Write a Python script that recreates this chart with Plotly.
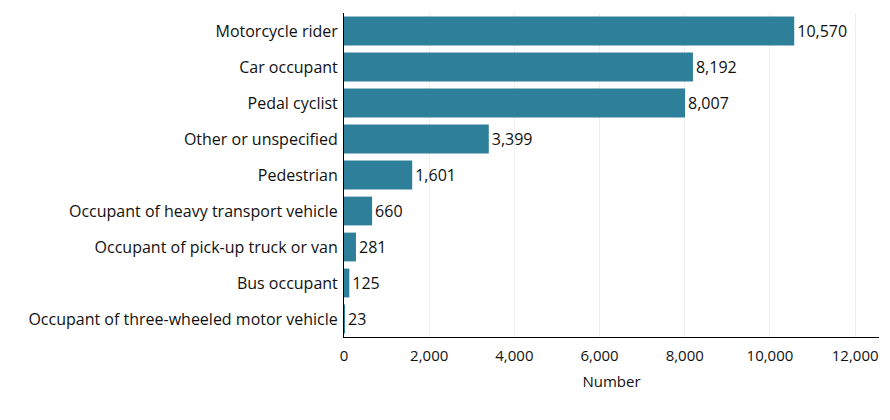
import plotly.graph_objects as go

categories = [
    "Motorcycle rider",
    "Car occupant",
    "Pedal cyclist",
    "Other or unspecified",
    "Pedestrian",
    "Occupant of heavy transport vehicle",
    "Occupant of pick-up truck or van",
    "Bus occupant",
    "Occupant of three-wheeled motor vehicle",
]
values = [10570, 8192, 8007, 3399, 1601, 660, 281, 125, 23]
tick_vals = [0, 2000, 4000, 6000, 8000, 10000, 12000]
tick_text = ["0", "2,000", "4,000", "6,000", "8,000", "10,000", "12,000"]

FONT = "Open Sans"

fig = go.Figure(
    go.Bar(
        x=values,
        y=categories,
        orientation="h",
        marker=dict(color="#2e7f99", line=dict(width=0)),
        text=[f"{v:,}" for v in values],
        textposition="outside",
        textfont=dict(family=FONT, size=16, color="#111111"),
        cliponaxis=False,
        hoverinfo="skip",
    )
)

fig.update_layout(
    width=890,
    height=420,
    margin=dict(l=344, r=11, t=13, b=83),
    paper_bgcolor="white",
    plot_bgcolor="white",
    bargap=0.2,
    showlegend=False,
    font=dict(family=FONT, size=15, color="#111111"),
)

fig.update_xaxes(
    range=[0, 12560],
    tickvals=tick_vals,
    ticktext=tick_text,
    showgrid=True,
    gridcolor="#eeeeee",
    gridwidth=1,
    showline=True,
    linecolor="#000000",
    linewidth=1,
    zeroline=False,
    ticks="",
    ticklabelstandoff=5,
    tickfont=dict(family=FONT, size=15, color="#111111"),
    title=dict(text="Number", font=dict(family=FONT, size=15, color="#111111"), standoff=12),
)

fig.update_yaxes(
    categoryorder="array",
    categoryarray=categories,
    autorange="reversed",
    showline=True,
    linecolor="#000000",
    linewidth=1,
    showgrid=False,
    ticks="",
    ticklabelstandoff=2,
    tickfont=dict(family=FONT, size=16, color="#111111"),
)

fig.write_html("out.html")
